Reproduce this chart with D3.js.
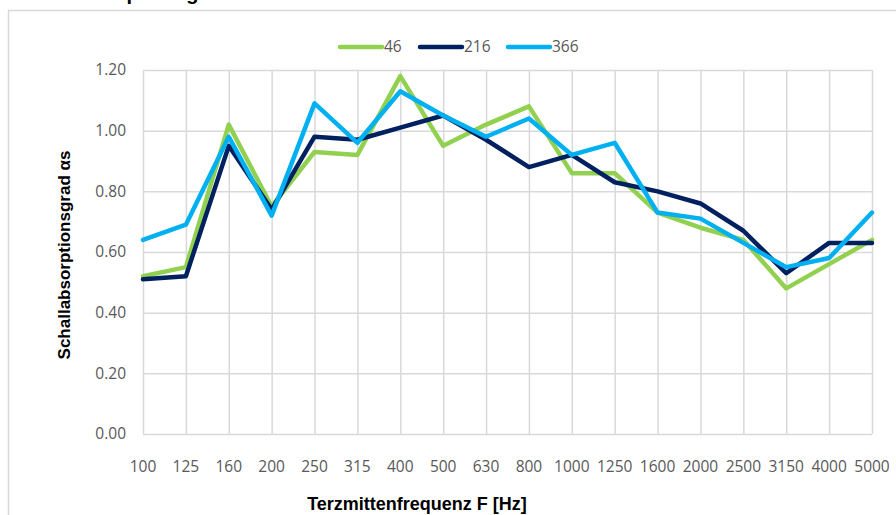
<!DOCTYPE html>
<html><head><meta charset="utf-8">
<script src="https://cdn.jsdelivr.net/npm/d3@7"></script>
<style>body{margin:0;background:#fff;} svg{display:block;}</style>
</head><body>
<svg id="c" width="896" height="515"></svg>
<script>
const categories = ["100","125","160","200","250","315","400","500","630","800","1000","1250","1600","2000","2500","3150","4000","5000"];
const s46  = [0.52,0.55,1.02,0.75,0.93,0.92,1.18,0.95,1.02,1.08,0.86,0.86,0.73,0.68,0.64,0.48,0.56,0.64];
const s216 = [0.51,0.52,0.95,0.74,0.98,0.97,1.01,1.05,0.97,0.88,0.92,0.83,0.80,0.76,0.67,0.53,0.63,0.63];
const s366 = [0.64,0.69,0.98,0.72,1.09,0.96,1.13,1.05,0.98,1.04,0.92,0.96,0.73,0.71,0.63,0.55,0.58,0.73];
const seriesNames = ["46","216","366"];
const yTicks = [0,0.2,0.4,0.6,0.8,1.0,1.2];
const colors = ["#92D050","#002060","#00B0F0"];
const series = [s46,s216,s366];

const svg = d3.select("#c");
const L=143,R=872,T=70,B=434;
const x = d3.scalePoint().domain(categories).range([L,R]);
const y = d3.scaleLinear().domain([0,1.2]).range([B,T]);
const labelFont = "'Open Sans', sans-serif";

// chart border
svg.append("rect").attr("x",8.5).attr("y",10.5).attr("width",1000).attr("height",1000)
  .attr("fill","none").attr("stroke","#d9d9d9").attr("stroke-width",1.5);

// title (cut off at top, as in the reference)
svg.append("text").attr("x",13).attr("y",-0.5).attr("font-family","'Liberation Sans', Arial, sans-serif")
  .attr("font-weight","bold").attr("font-size",20).attr("fill","#000").text("Schallabsorptionsgrad");

// gridlines
const gx = svg.append("g").attr("transform",`translate(0,${B})`)
  .call(d3.axisBottom(x).tickSize(-(B-T)).tickFormat(""));
gx.selectAll("line").attr("stroke","#d9d9d9").attr("stroke-width",1.5);
gx.select(".domain").remove();
const gy = svg.append("g").attr("transform",`translate(${L},0)`)
  .call(d3.axisLeft(y).tickValues(yTicks).tickSize(-(R-L)).tickFormat(""));
gy.selectAll("line").attr("stroke","#d9d9d9").attr("stroke-width",1.5);
gy.select(".domain").remove();

// tick labels
svg.append("g").selectAll("text").data(yTicks).join("text")
  .attr("x",126).attr("y",d=>y(d)).attr("dy","0.35em").attr("text-anchor","end")
  .attr("font-family",labelFont).attr("font-size",15.5).attr("fill","#595959")
  .text(d=>d3.format(".2f")(d));
svg.append("g").selectAll("text").data(categories).join("text")
  .attr("x",d=>x(d)).attr("y",467).attr("dy","0.35em").attr("text-anchor","middle")
  .attr("font-family",labelFont).attr("font-size",15.5).attr("fill","#595959")
  .text(d=>d);

// lines
const line = d3.line().x((d,i)=>x(categories[i])).y(d=>y(d));
series.forEach((s,k)=>{
  svg.append("path").datum(s).attr("d",line).attr("fill","none")
    .attr("stroke",colors[k]).attr("stroke-width",4.5).attr("stroke-linejoin","round").attr("stroke-linecap","round");
});

// legend
const legX = [340,420,508];
seriesNames.forEach((n,k)=>{
  svg.append("line").attr("x1",legX[k]).attr("x2",legX[k]+42).attr("y1",47).attr("y2",47)
    .attr("stroke",colors[k]).attr("stroke-width",4.5).attr("stroke-linecap","round");
  svg.append("text").attr("x",legX[k]+44).attr("y",47).attr("dy","0.35em")
    .attr("font-family",labelFont).attr("font-size",15.5).attr("fill","#595959").text(n);
});

// axis titles
svg.append("text").attr("transform","translate(70,255) rotate(-90)").attr("text-anchor","middle")
  .attr("font-family","'Liberation Sans', Arial, sans-serif").attr("font-weight","bold").attr("font-size",17)
  .attr("fill","#000").text("Schallabsorptionsgrad αs");
svg.append("text").attr("x",417).attr("y",510).attr("text-anchor","middle")
  .attr("font-family","'Liberation Sans', Arial, sans-serif").attr("font-weight","bold").attr("font-size",18)
  .attr("fill","#000").text("Terzmittenfrequenz F [Hz]");
</script>
</body></html>
